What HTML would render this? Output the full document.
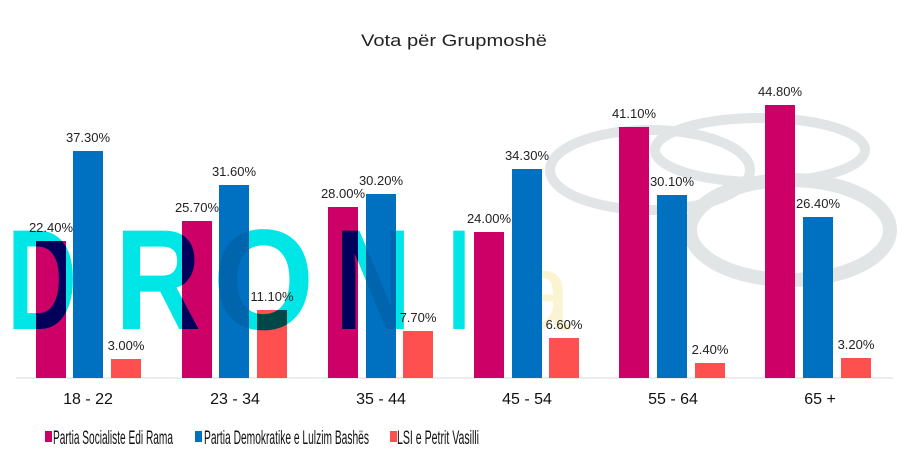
<!DOCTYPE html>
<html><head><meta charset="utf-8"><style>
html,body{margin:0;padding:0;background:#fff;}
svg{display:block;font-family:"Liberation Sans",sans-serif;}
</style></head><body>
<svg width="909" height="453" viewBox="0 0 909 453">
<rect width="909" height="453" fill="#fff"/>
<text x="454" y="46" font-size="17" text-anchor="middle" fill="#222" textLength="186" lengthAdjust="spacingAndGlyphs">Vota për Grupmoshë</text>
<g fill="none" stroke="#e2e5e6">
<ellipse cx="650" cy="170" rx="100" ry="40" stroke-width="10"/>
<ellipse cx="760" cy="150" rx="105" ry="32" stroke-width="10"/>
<ellipse cx="790" cy="230" rx="100" ry="50" stroke-width="14"/>
</g>
<text x="510" y="330" font-size="110" fill="#faf4d2">a</text>
<line x1="16" y1="378" x2="893" y2="378" stroke="#d8d8d8" stroke-width="1"/>
<g>
<rect x="36" y="241" width="30" height="137" fill="#cc0066"/>
<rect x="73" y="151" width="30" height="227" fill="#0070c0"/>
<rect x="111" y="359" width="30" height="19" fill="#ff5050"/>
<rect x="182" y="221" width="30" height="157" fill="#cc0066"/>
<rect x="219" y="185" width="30" height="193" fill="#0070c0"/>
<rect x="257" y="310" width="30" height="68" fill="#ff5050"/>
<rect x="328" y="207" width="30" height="171" fill="#cc0066"/>
<rect x="366" y="194" width="30" height="184" fill="#0070c0"/>
<rect x="403" y="331" width="30" height="47" fill="#ff5050"/>
<rect x="474" y="232" width="30" height="146" fill="#cc0066"/>
<rect x="512" y="169" width="30" height="209" fill="#0070c0"/>
<rect x="549" y="338" width="30" height="40" fill="#ff5050"/>
<rect x="619" y="127" width="30" height="251" fill="#cc0066"/>
<rect x="657" y="195" width="30" height="183" fill="#0070c0"/>
<rect x="695" y="363" width="30" height="15" fill="#ff5050"/>
<rect x="765" y="105" width="30" height="273" fill="#cc0066"/>
<rect x="803" y="217" width="30" height="161" fill="#0070c0"/>
<rect x="841" y="358" width="30" height="20" fill="#ff5050"/>
</g>
<g fill="#00e5e5" font-size="143" font-weight="bold" style="mix-blend-mode:multiply">
<text x="7" y="329" textLength="70" lengthAdjust="spacingAndGlyphs">D</text>
<text x="115" y="329" textLength="86" lengthAdjust="spacingAndGlyphs">R</text>
<text x="213" y="329" textLength="101" lengthAdjust="spacingAndGlyphs">O</text>
<text x="335" y="329" textLength="76" lengthAdjust="spacingAndGlyphs">N</text>
<text x="448" y="329" textLength="22" lengthAdjust="spacingAndGlyphs">I</text>
</g>
<g font-size="13" fill="#222" text-anchor="middle">
<text x="51" y="232">22.40%</text>
<text x="88" y="142">37.30%</text>
<text x="126" y="350">3.00%</text>
<text x="197" y="212">25.70%</text>
<text x="234" y="176">31.60%</text>
<text x="272" y="301">11.10%</text>
<text x="343" y="198">28.00%</text>
<text x="381" y="185">30.20%</text>
<text x="418" y="322">7.70%</text>
<text x="489" y="223">24.00%</text>
<text x="527" y="160">34.30%</text>
<text x="564" y="329">6.60%</text>
<text x="634" y="118">41.10%</text>
<text x="672" y="186">30.10%</text>
<text x="710" y="354">2.40%</text>
<text x="780" y="96">44.80%</text>
<text x="818" y="208">26.40%</text>
<text x="856" y="349">3.20%</text>
</g>
<g font-size="16" fill="#111" text-anchor="middle">
<text x="88" y="404">18 - 22</text>
<text x="235" y="404">23 - 34</text>
<text x="381" y="404">35 - 44</text>
<text x="527" y="404">45 - 54</text>
<text x="673" y="404">55 - 64</text>
<text x="820" y="404">65 +</text>
</g>
<g font-size="19" fill="#111">
<rect x="45" y="431" width="7" height="11" fill="#cc0066"/>
<text x="53" y="444" textLength="120" lengthAdjust="spacingAndGlyphs">Partia Socialiste Edi Rama</text>
<rect x="195" y="431" width="7" height="11" fill="#0070c0"/>
<text x="204" y="444" textLength="165" lengthAdjust="spacingAndGlyphs">Partia Demokratike e Lulzim Bashës</text>
<rect x="390" y="431" width="7" height="11" fill="#ff5050"/>
<text x="397" y="444" textLength="82" lengthAdjust="spacingAndGlyphs">LSI e Petrit Vasilli</text>
</g>
</svg>
</body></html>
